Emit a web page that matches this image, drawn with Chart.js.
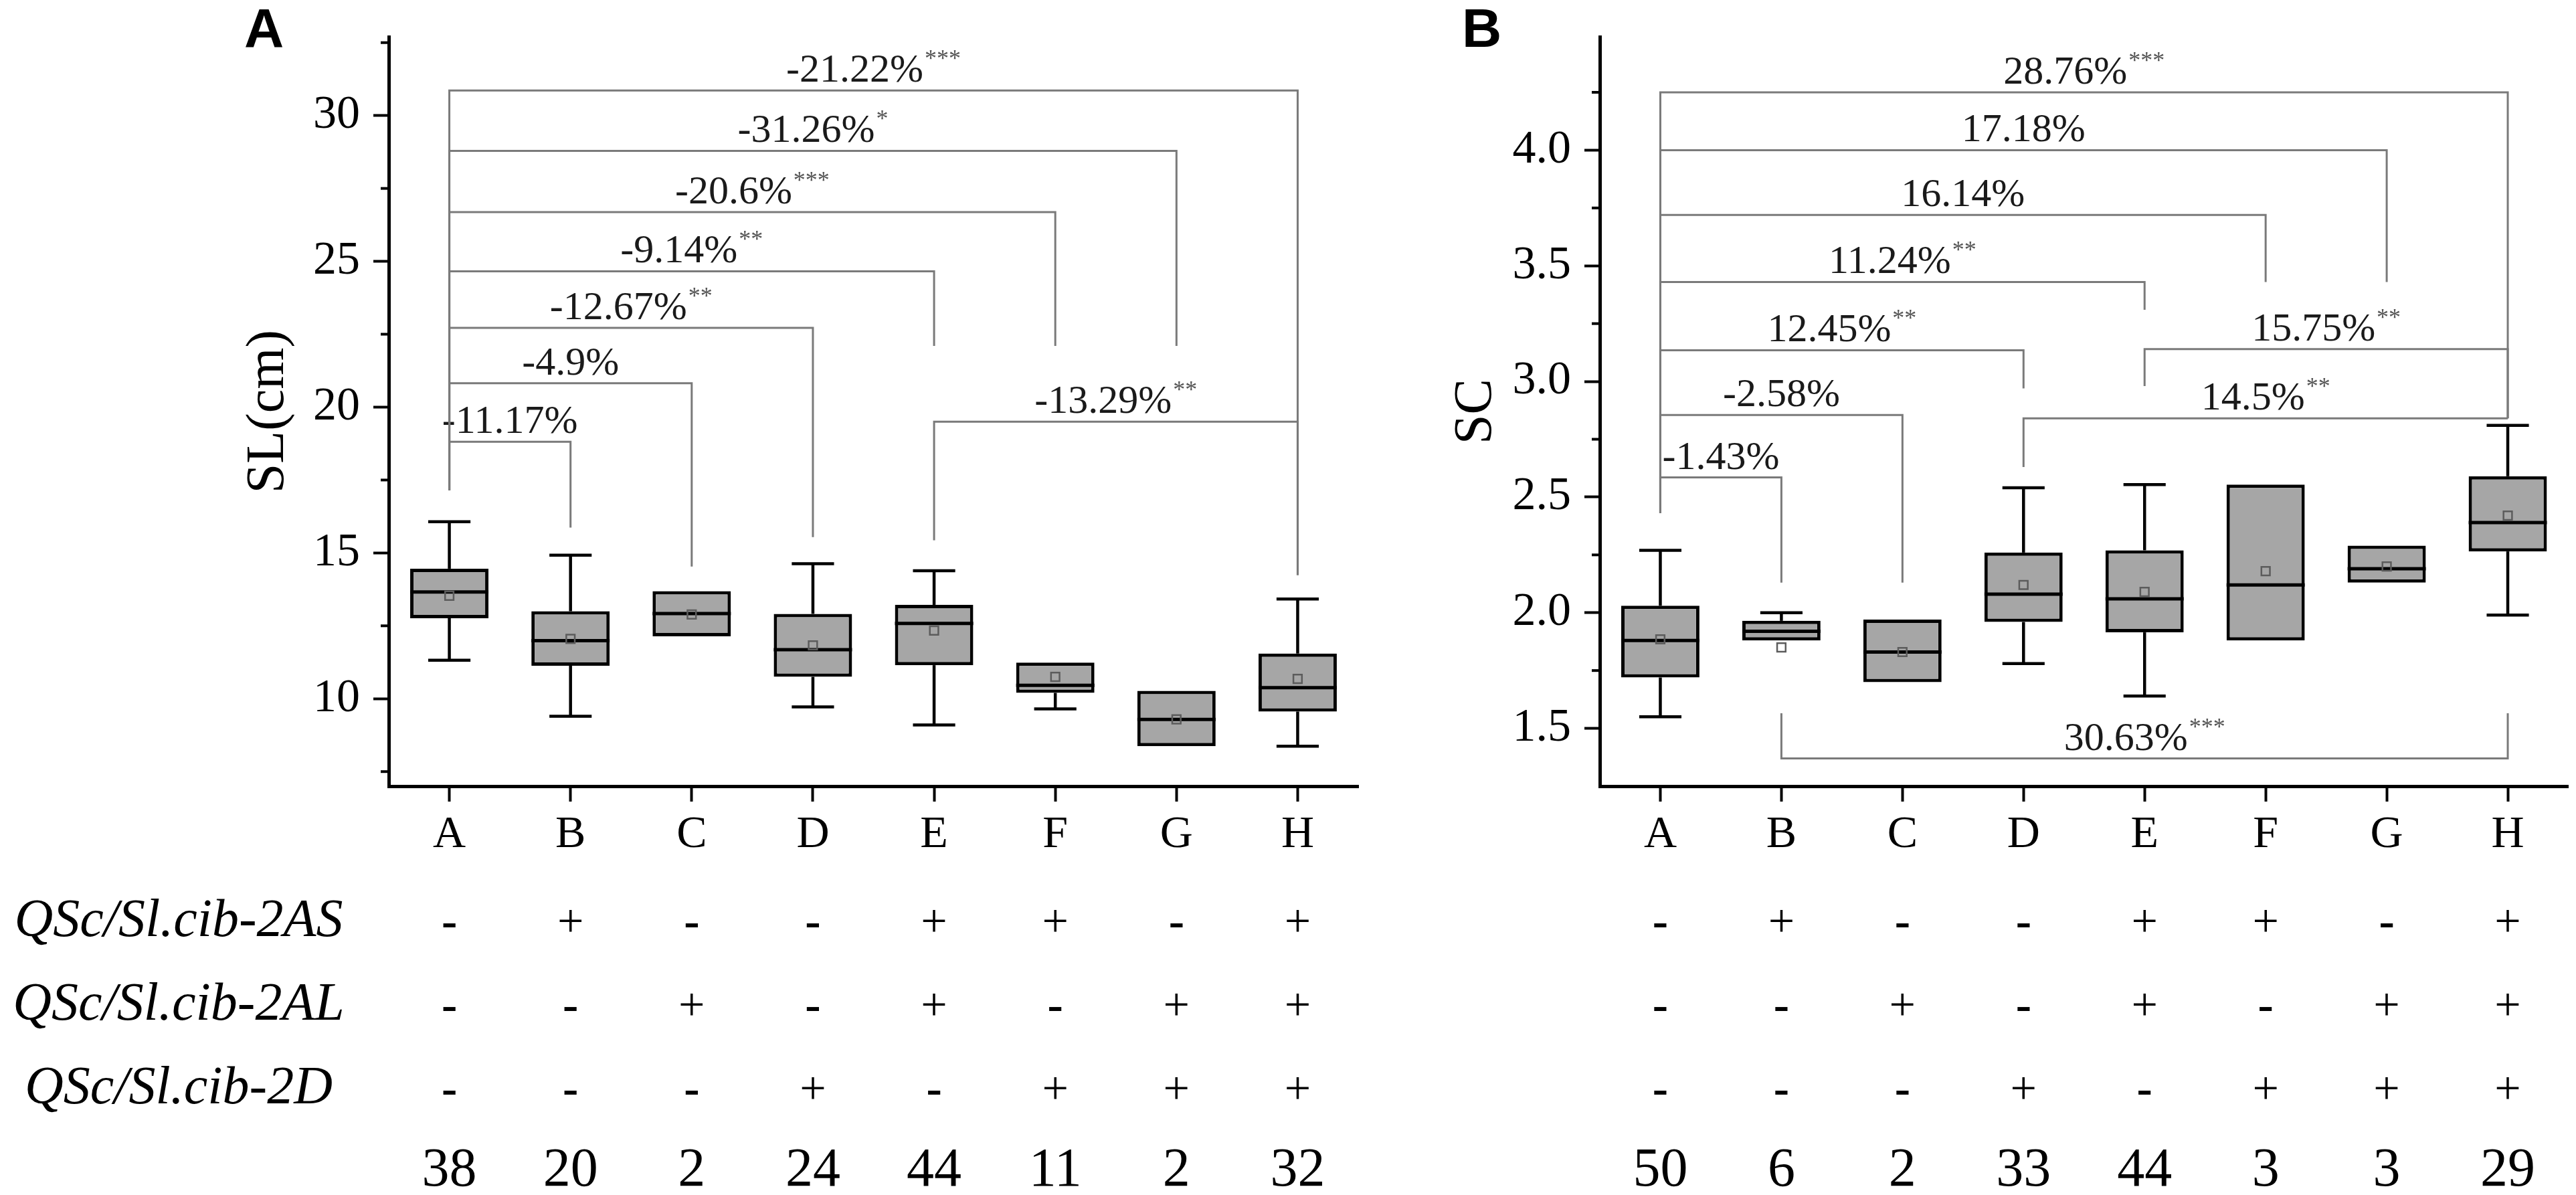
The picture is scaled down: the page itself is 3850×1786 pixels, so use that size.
<!DOCTYPE html>
<html>
<head>
<meta charset="utf-8">
<script src="https://cdn.jsdelivr.net/npm/chart.js@4.4.1/dist/chart.umd.min.js"></script>
<style>
  html, body { margin: 0; padding: 0; background: #fff; }
  #wrap { position: relative; width: 3850px; height: 1786px; overflow: hidden; }
  canvas { position: absolute; top: 0; }
  #plotA { left: 0; }
  #plotB { left: 2120px; }
</style>
</head>
<body>
<div id="wrap">
  <canvas id="plotA" width="2120" height="1786"></canvas>
  <canvas id="plotB" width="1730" height="1786"></canvas>
</div>
<script>
// categories and genotype table
const groups = ['A', 'B', 'C', 'D', 'E', 'F', 'G', 'H'];
const rowNames = ['QSc/Sl.cib-2AS', 'QSc/Sl.cib-2AL', 'QSc/Sl.cib-2D'];
const row2AS = ['-', '+', '-', '-', '+', '+', '-', '+'];
const row2AL = ['-', '-', '+', '-', '+', '-', '+', '+'];
const row2D  = ['-', '-', '-', '+', '-', '+', '+', '+'];

// panel A : SL(cm)
const slQ1     = [12.76, 11.13, 12.14, 10.75, 11.15, 10.20, 8.37, 9.56];
const slQ3     = [14.46, 13.00, 13.69, 12.91, 13.22, 11.24, 10.27, 11.55];
const slMedian = [13.66, 11.99, 12.92, 11.68, 12.58, 10.46, 9.29, 10.38];
const slMean   = [13.53, 12.05, 12.89, 11.83, 12.34, 10.75, 9.29, 10.68];
const slLow    = [11.32, 9.40, null, 9.72, 9.10, 9.65, null, 8.37];
const slHigh   = [16.07, 14.92, null, 14.63, 14.39, null, null, 13.42];
const slCounts = [38, 20, 2, 24, 44, 11, 2, 32];
// comparison brackets
const slBrFrom    = [0, 0, 0, 0, 0, 0, 0, 4];
const slBrTo      = [1, 2, 3, 4, 5, 6, 7, 7];
const slBrLevel   = [18.81, 20.82, 22.72, 24.66, 26.69, 28.79, 30.86, 19.5];
const slBrFromEnd = [17.15, 17.15, 17.15, 17.15, 17.15, 17.15, 17.15, 15.43];
const slBrToEnd   = [15.87, 14.53, 15.54, 22.1, 22.1, 22.1, 14.24, 14.24];
const slBrText    = ['-11.17%', '-4.9%', '-12.67%', '-9.14%', '-20.6%', '-31.26%', '-21.22%', '-13.29%'];
const slBrStars   = ['', '', '**', '**', '***', '*', '***', '**'];

// panel B : SC
const scQ1     = [1.72, 1.88, 1.70, 1.96, 1.915, 1.88, 2.13, 2.265];
const scQ3     = [2.03, 1.965, 1.97, 2.26, 2.27, 2.554, 2.29, 2.59];
const scMedian = [1.88, 1.92, 1.83, 2.08, 2.06, 2.12, 2.19, 2.39];
const scMean   = [1.885, 1.85, 1.83, 2.12, 2.09, 2.18, 2.20, 2.42];
const scLow    = [1.55, null, null, 1.78, 1.64, null, null, 1.99];
const scHigh   = [2.27, 2.0, null, 2.54, 2.554, null, null, 2.81];
const scCounts = [50, 6, 2, 33, 44, 3, 3, 29];
const scBrFrom    = [0, 0, 0, 0, 0, 0, 0, 4, 3, 1];
const scBrTo      = [1, 2, 3, 4, 5, 6, 7, 7, 7, 7];
const scBrLevel   = [2.585, 2.855, 3.135, 3.43, 3.72, 4.0, 4.25, 3.14, 2.84, 1.37];
const scBrFromEnd = [2.43, 2.43, 2.43, 2.43, 2.43, 2.43, 2.43, 2.98, 2.63, 1.565];
const scBrToEnd   = [2.13, 2.13, 2.97, 3.31, 3.43, 3.43, 2.84, 2.84, 2.84, 1.565];
const scBrText    = ['-1.43%', '-2.58%', '12.45%', '11.24%', '16.14%', '17.18%', '28.76%', '15.75%', '14.5%', '30.63%'];
const scBrStars   = ['', '', '**', '**', '', '', '***', '**', '**', '***'];

const SERIF = '"Liberation Serif", "Times New Roman", serif';
Chart.defaults.font.family = SERIF;
Chart.defaults.color = '#000';

let line = (ctx, x1, y1, x2, y2) => {
    ctx.beginPath();
    ctx.moveTo(x1, y1);
    ctx.lineTo(x2, y2);
    ctx.stroke();
}

// whiskers + median, drawn right after the boxes so the mean squares land on top
let boxParts = {
    id: 'boxParts',
    afterDatasetDraw(chart, args, opts) {
        if (args.index !== 0) return;
        let ctx = chart.ctx, x = chart.scales.x, y = chart.scales.y;
        let bars = args.meta.data;
        ctx.save();
        ctx.strokeStyle = '#000';
        for (let i = 0; i < groups.length; i++) {
            let cx = x.getPixelForValue(i);
            let w = bars[i].width;
            ctx.lineWidth = 5;
            let ym = y.getPixelForValue(opts.median[i]);
            line(ctx, cx - w / 2, ym, cx + w / 2, ym);
            ctx.lineWidth = 4.5;
            [[opts.high[i], opts.q3[i]], [opts.low[i], opts.q1[i]]].forEach(([end, edge]) => {
                if (end == null) return;
                let ye = y.getPixelForValue(end), yb = y.getPixelForValue(edge);
                line(ctx, cx, yb, cx, ye);
                line(ctx, cx - w * 0.27, ye, cx + w * 0.27, ye);
            });
        }
        ctx.restore();
    }
};

// brackets, minor ticks, genotype table, panel letter
let extras = {
    id: 'extras',
    afterDraw(chart, args, opts) {
        let ctx = chart.ctx, x = chart.scales.x, y = chart.scales.y;
        let area = chart.chartArea;
        ctx.save();

        // minor y ticks
        ctx.strokeStyle = '#000';
        ctx.lineWidth = 4;
        y.ticks.forEach(t => {
            if (opts.isMajor(t.value) || t.value <= y.min || t.value >= y.max) return;
            let py = y.getPixelForValue(t.value);
            line(ctx, area.left - 12, py, area.left, py);
        });

        // brackets
        ctx.strokeStyle = '#7a7a7a';
        ctx.lineWidth = 3;
        opts.brFrom.forEach((f, k) => {
            let x1 = x.getPixelForValue(f), x2 = x.getPixelForValue(opts.brTo[k]);
            let yl = y.getPixelForValue(opts.brLevel[k]);
            ctx.beginPath();
            ctx.moveTo(x1, y.getPixelForValue(opts.brFromEnd[k]));
            ctx.lineTo(x1, yl);
            ctx.lineTo(x2, yl);
            ctx.lineTo(x2, y.getPixelForValue(opts.brToEnd[k]));
            ctx.stroke();

            let text = opts.brText[k], stars = opts.brStars[k];
            ctx.font = '60px ' + SERIF;
            let w1 = ctx.measureText(text).width;
            ctx.font = '36px ' + SERIF;
            let w2 = stars ? ctx.measureText(stars).width + 2 : 0;
            let left = (x1 + x2) / 2 - (w1 + w2) / 2;
            ctx.textAlign = 'left';
            ctx.textBaseline = 'alphabetic';
            ctx.font = '60px ' + SERIF;
            ctx.fillStyle = '#1a1a1a';
            ctx.fillText(text, left, yl - 13);
            if (stars) {
                ctx.font = '36px ' + SERIF;
                ctx.fillStyle = '#555';
                ctx.fillText(stars, left + w1 + 2, yl - 36);
            }
        });

        // genotype rows and counts
        ctx.fillStyle = '#000';
        ctx.textAlign = 'center';
        ctx.textBaseline = 'middle';
        let rowY = [1382, 1507, 1632];
        [row2AS, row2AL, row2D].forEach((row, r) => {
            row.forEach((s, i) => {
                ctx.font = (s === '-' ? 'bold ' : '') + '70px ' + SERIF;
                ctx.fillText(s, x.getPixelForValue(i), rowY[r]);
            });
        });
        ctx.font = '82px ' + SERIF;
        opts.counts.forEach((n, i) => ctx.fillText(String(n), x.getPixelForValue(i), 1750));
        if (opts.rowLabels) {
            ctx.font = 'italic 80px ' + SERIF;
            rowNames.forEach((name, r) => ctx.fillText(name, 267, rowY[r] - 4));
        }

        // panel letter
        ctx.font = 'bold 82px "Liberation Sans", Arial, sans-serif';
        ctx.textAlign = 'left';
        ctx.textBaseline = 'alphabetic';
        ctx.fillText(opts.letter, area.left - opts.letterGap, 70);
        ctx.restore();
    }
};

let makeBoxChart = (canvasId, d) => {
    let plotRef = document.getElementById(canvasId);
    let config = {
        type: 'bar',
        data: {
            labels: groups,
            datasets: [
                {
                    data: d.q1.map((v, i) => [v, d.q3[i]]),
                    backgroundColor: '#a6a6a6',
                    borderColor: '#000',
                    borderWidth: 5,
                    borderSkipped: false,
                    barPercentage: 0.646,
                    categoryPercentage: 1,
                    order: 1
                },
                {
                    type: 'line',
                    data: d.mean,
                    showLine: false,
                    pointStyle: 'rect',
                    pointRadius: 9,
                    pointBorderWidth: 2.5,
                    pointBorderColor: '#5c5c5c',
                    pointBackgroundColor: 'rgba(0,0,0,0)',
                    order: 0
                }
            ]
        },
        options: {
            responsive: false,
            devicePixelRatio: 1,
            animation: false,
            events: [],
            layout: { padding: { left: d.padLeft, right: d.padRight, top: 10, bottom: 0 } },
            plugins: {
                legend: { display: false },
                tooltip: { enabled: false },
                boxParts: { q1: d.q1, q3: d.q3, median: d.median, low: d.low, high: d.high },
                extras: {
                    isMajor: d.isMajor,
                    brFrom: d.brFrom, brTo: d.brTo, brLevel: d.brLevel,
                    brFromEnd: d.brFromEnd, brToEnd: d.brToEnd,
                    brText: d.brText, brStars: d.brStars,
                    counts: d.counts, rowLabels: d.rowLabels,
                    letter: d.letter, letterGap: d.letterGap
                }
            },
            scales: {
                x: {
                    type: 'category',
                    offset: true,
                    grid: { offset: false, drawOnChartArea: false, tickLength: 23, tickWidth: 4, tickColor: '#000' },
                    border: { width: 5, color: '#000' },
                    ticks: { font: { size: 68, lineHeight: 1 }, color: '#000', padding: 16, maxRotation: 0, autoSkip: false },
                    afterFit: (s) => { s.height = 611; }
                },
                y: {
                    min: d.yMin,
                    max: d.yMax,
                    grid: {
                        drawOnChartArea: false, tickLength: 23, tickWidth: 4,
                        tickColor: (c) => (c.tick && d.isMajor(c.tick.value)) ? '#000' : 'rgba(0,0,0,0)'
                    },
                    border: { width: 5, color: '#000' },
                    ticks: {
                        stepSize: d.step,
                        includeBounds: false,
                        font: { size: 70, lineHeight: 1 },
                        color: '#000',
                        padding: 20,
                        callback: (v) => d.isMajor(v) ? v.toFixed(d.decimals) : ''
                    },
                    title: { display: true, text: d.title, font: { size: 80, lineHeight: 1 }, color: '#000', padding: 0 },
                    afterFit: (s) => { s.width = d.axisWidth; }
                }
            }
        },
        plugins: [boxParts, extras]
    };
    return new Chart(plotRef, config);
}

let drawAll = () => {
    makeBoxChart('plotA', {
        q1: slQ1, q3: slQ3, median: slMedian, mean: slMean, low: slLow, high: slHigh, counts: slCounts,
        brFrom: slBrFrom, brTo: slBrTo, brLevel: slBrLevel, brFromEnd: slBrFromEnd, brToEnd: slBrToEnd,
        brText: slBrText, brStars: slBrStars,
        yMin: 7, yMax: 32.7, step: 2.5, decimals: 0,
        isMajor: (v) => Math.abs(v / 5 - Math.round(v / 5)) < 1e-6,
        title: 'SL(cm)', padLeft: 362, axisWidth: 219, padRight: 90,
        rowLabels: true, letter: 'A', letterGap: 216
    });

    makeBoxChart('plotB', {
        q1: scQ1, q3: scQ3, median: scMedian, mean: scMean, low: scLow, high: scHigh, counts: scCounts,
        brFrom: scBrFrom, brTo: scBrTo, brLevel: scBrLevel, brFromEnd: scBrFromEnd, brToEnd: scBrToEnd,
        brText: scBrText, brStars: scBrStars,
        yMin: 1.25, yMax: 4.49, step: 0.25, decimals: 1,
        isMajor: (v) => Math.abs(v / 0.5 - Math.round(v / 0.5)) < 1e-6,
        title: 'SC', padLeft: 47, axisWidth: 224, padRight: 8,
        rowLabels: false, letter: 'B', letterGap: 206
    });
}

// make sure the serif faces are ready before the canvases are painted
Promise.all([
    document.fonts.load('70px "Liberation Serif"'),
    document.fonts.load('italic 80px "Liberation Serif"'),
    document.fonts.load('bold 70px "Liberation Serif"'),
    document.fonts.load('bold 82px "Liberation Sans"')
]).then(drawAll, drawAll);
</script>
</body>
</html>
